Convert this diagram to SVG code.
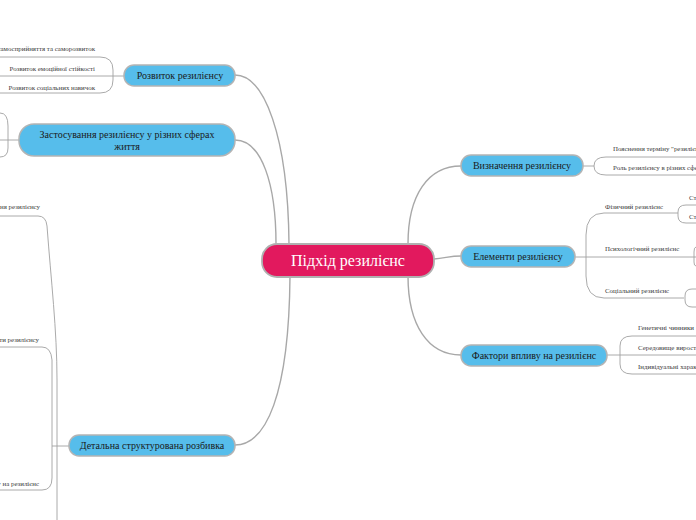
<svg xmlns="http://www.w3.org/2000/svg" width="696" height="520" viewBox="0 0 696 520">
<style>
.n rect{fill:#56BDEB;stroke:#b4b4b4;stroke-width:1.5}
.n text{font-family:"Liberation Serif",serif;font-size:10px;fill:#1a1a1a;text-anchor:middle}
.c{fill:none;stroke:#a8a8a8;stroke-width:1.4}
.s{fill:none;stroke:#a0a0a0;stroke-width:0.9}
.t{font-family:"Liberation Serif",serif;font-size:6.9px;fill:#3a3a3a}
.e{text-anchor:end}
</style>
<rect width="696" height="520" fill="#fff"/>
<g id="connectors">
<path class="c" d="M235,75 C264,75 288,135 289,244"/>
<path class="c" d="M235,140 C262,140 276,185 276,244"/>
<path class="c" d="M235,445 C266,445 289,395 290,276"/>
<path class="c" d="M461,166 C428,166 408,195 408,244"/>
<path class="c" d="M434,259 C446,258 450,256 461,256"/>
<path class="c" d="M461,355 C428,355 408,325 408,276"/>
<path class="s" d="M0,57 H100 Q113,57 113,70 V80 Q113,93 100,93 H0"/>
<path class="s" d="M0,76 H124"/>
<path class="s" d="M0,113 Q8,113 8,126 V148 Q8,157 0,157"/>
<path class="s" d="M0,140 H19"/>
<path class="s" d="M0,216 H38 Q46,216 47,226 C51,280 57,330 57,380 V520"/>
<path class="s" d="M0,347 H42 Q51,347 52,360 V478 Q52,490 42,490 H0"/>
<path class="s" d="M52,446 H69"/>
<path class="s" d="M696,157 H606 Q594,157 594,166 Q594,175 606,175 H696"/>
<path class="s" d="M583,166 H594"/>
<path class="s" d="M678,213 H604 Q586,213 586,235 V276 Q586,298 604,298 H684"/>
<path class="s" d="M575,257 H696"/>
<path class="s" d="M696,205 H686 Q678,205 678,212 V216 Q678,223 686,223 H696"/>
<path class="s" d="M696,247 Q694,247 694,252 V262 Q694,266 696,266"/>
<path class="s" d="M696,289 H692 Q685,289 685,296 V300 Q685,307 692,307 H696"/>
<path class="s" d="M696,336 H632 Q620,336 620,346 V364 Q620,374 632,374 H696"/>
<path class="s" d="M607,355 H696"/>
</g>
<g class="t">
<text class="e" x="95" y="51">Розвиток самосприйняття та саморозвиток</text>
<text class="e" x="95" y="71">Розвиток емоційної стійкості</text>
<text class="e" x="95" y="90">Розвиток соціальних навичок</text>
<text class="e" x="40" y="209">Визначення резилієнсу</text>
<text class="e" x="39" y="342">Елементи резилієнсу</text>
<text class="e" x="39" y="486">Фактори впливу на резилієнс</text>
<text x="613" y="151">Пояснення терміну "резилієнсу"</text>
<text x="613" y="170">Роль резилієнсу в різних сферах життя</text>
<text x="605" y="209">Фізичний резилієнс</text>
<text x="689" y="200">Стійкість</text>
<text x="689" y="219">Стійкість</text>
<text x="605" y="251">Психологічний резилієнс</text>
<text x="605" y="293">Соціальний резилієнс</text>
<text x="638" y="330">Генетичні чинники</text>
<text x="638" y="350">Середовище виростання</text>
<text x="638" y="369">Індивідуальні характеристики</text>
</g>
<g id="central">
<rect x="262" y="244" width="172" height="33" rx="15" fill="#E2195E" stroke="#b0b0b0" stroke-width="1.8"/>
<text x="348" y="266" font-family="Liberation Serif,serif" font-size="16" fill="#fff" text-anchor="middle">Підхід резилієнс</text>
</g>
<g id="rozvytok" class="n"><rect x="124" y="65" width="111" height="21" rx="10"/><text x="180" y="79">Розвиток резилієнсу</text></g>
<g id="zastosuvannia" class="n"><rect x="19" y="124" width="216" height="32" rx="15"/><text x="127" y="138">Застосування резилієнсу у різних сферах</text><text x="127" y="150">життя</text></g>
<g id="detalna" class="n"><rect x="69" y="435" width="166" height="21" rx="10"/><text x="152" y="449">Детальна структурована розбивка</text></g>
<g id="vyznachennia" class="n"><rect x="461" y="155" width="122" height="21" rx="10"/><text x="522" y="169">Визначення резилієнсу</text></g>
<g id="elementy" class="n"><rect x="461" y="246" width="114" height="21" rx="10"/><text x="518" y="260">Елементи резилієнсу</text></g>
<g id="faktory" class="n"><rect x="461" y="345" width="146" height="21" rx="10"/><text x="534" y="359">Фактори впливу на резилієнс</text></g>
</svg>
